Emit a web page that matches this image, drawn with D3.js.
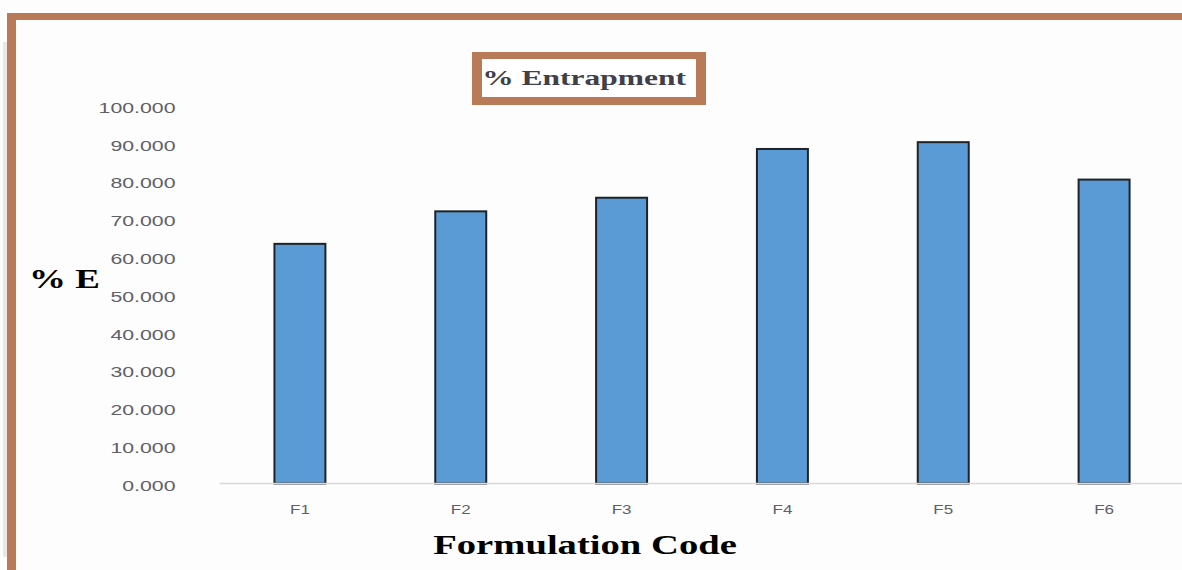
<!DOCTYPE html>
<html>
<head>
<meta charset="utf-8">
<script src="https://cdn.jsdelivr.net/npm/d3@7"></script>
<style>
  html, body { margin: 0; padding: 0; background: #fdfdfd; }
  svg { display: block; }
</style>
</head>
<body>
<svg id="chart" width="1182" height="570"></svg>
<script>
// Formulation codes and their % entrapment
const categories = ["F1", "F2", "F3", "F4", "F5", "F6"];
const entrapment = [63.4, 72.0, 75.6, 88.5, 90.3, 80.4];
const yTicks = [0, 10, 20, 30, 40, 50, 60, 70, 80, 90, 100];

const svg = d3.select("#chart");
const W = 1182, H = 570;
const frame = "#b97a57";
const sx = 1.42; // horizontal stretch applied to glyphs

svg.append("rect").attr("width", W).attr("height", H).attr("fill", "#fdfdfd");

// thin grey strip along the far left edge
svg.append("rect").attr("x", 3).attr("y", 42).attr("width", 4).attr("height", 515).attr("fill", "#e8e8e8");

// outer frame (left and top edges)
svg.append("rect").attr("x", 7).attr("y", 13).attr("width", 9).attr("height", H - 13).attr("fill", frame);
svg.append("rect").attr("x", 7).attr("y", 13).attr("width", W - 7).attr("height", 7).attr("fill", frame);

const x = d3.scaleBand()
  .domain(categories)
  .range([219.5, 1184.5])
  .paddingInner(0.683)
  .paddingOuter(0.3415);

const y = d3.scaleLinear().domain([0, 100]).range([483.5, 105.5]);

// y axis labels (no axis line)
const yAxis = svg.append("g")
  .attr("transform", `translate(219.5,1.5)`)
  .call(d3.axisLeft(y).tickValues(yTicks).tickSize(0).tickPadding(0).tickFormat(d3.format(".3f")));
yAxis.select(".domain").remove();
yAxis.selectAll("text")
  .attr("x", -44 / sx)
  .attr("dy", "0.35em")
  .attr("transform", `scale(${sx},1)`)
  .attr("fill", "#5f6068")
  .style("font-family", "'Liberation Sans', Arial, sans-serif")
  .style("font-size", "15px");

// bars
svg.append("g").selectAll("rect")
  .data(categories)
  .join("rect")
  .attr("x", d => x(d))
  .attr("y", (d, i) => y(entrapment[i]))
  .attr("width", x.bandwidth())
  .attr("height", (d, i) => y(0) - y(entrapment[i]))
  .attr("fill", "#5b9bd5")
  .attr("stroke", "#1f2328")
  .attr("stroke-width", 2);

// x axis baseline and labels
const xAxis = svg.append("g")
  .attr("transform", `translate(0,${y(0)})`)
  .call(d3.axisBottom(x).tickSize(0).tickPadding(0));
xAxis.select(".domain")
  .attr("d", `M219.5,0H${W}`)
  .attr("stroke", "#d9d9d9")
  .attr("stroke-width", 1.5);
xAxis.selectAll(".tick text")
  .attr("y", 26)
  .attr("dy", "0.35em")
  .attr("x", 0)
  .attr("fill", "#5f6068")
  .style("font-family", "'Liberation Sans', Arial, sans-serif")
  .style("font-size", "12px");
// keep labels centred under each bar despite the stretch
xAxis.selectAll(".tick").each(function(d) {
  const cx = x(d) + x.bandwidth() / 2;
  d3.select(this).attr("transform", `translate(${cx},0)`)
    .select("text").attr("transform", `scale(${sx},1)`);
});

// title box
svg.append("rect").attr("x", 472).attr("y", 52).attr("width", 234).attr("height", 53).attr("fill", frame);
svg.append("rect").attr("x", 482).attr("y", 59).attr("width", 214).attr("height", 38).attr("fill", "#ffffff");

function stretchedText(txt, cx, baseline, size, color, scale) {
  svg.append("text")
    .attr("transform", `translate(${cx},${baseline}) scale(${scale},1)`)
    .attr("text-anchor", "middle")
    .attr("fill", color)
    .style("font-family", "'Liberation Serif', 'Times New Roman', serif")
    .style("font-weight", "bold")
    .style("font-size", size + "px")
    .text(txt);
}

stretchedText("% Entrapment", 584, 85, 21, "#40404a", 1.5);
stretchedText("% E", 64.5, 288, 28, "#000000", 1.32);
stretchedText("Formulation Code", 585, 554, 28, "#000000", 1.38);
</script>
</body>
</html>
